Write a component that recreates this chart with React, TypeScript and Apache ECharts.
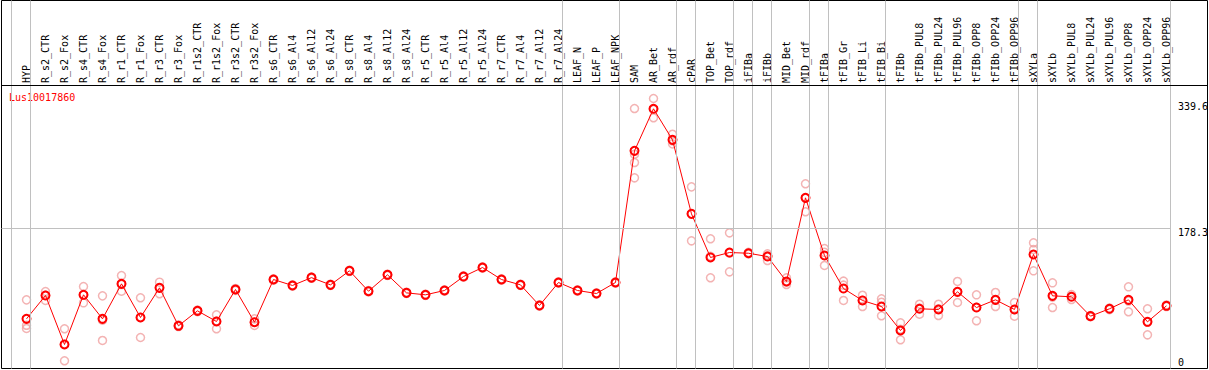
import React, { useEffect, useRef } from "react";
import * as echarts from "echarts";

const categories = [
  "HYP", "R_s2_CTR", "R_s2_Fox", "R_s4_CTR", "R_s4_Fox", "R_r1_CTR", "R_r1_Fox", "R_r3_CTR", "R_r3_Fox",
  "R_r1s2_CTR", "R_r1s2_Fox", "R_r3s2_CTR", "R_r3s2_Fox", "R_s6_CTR", "R_s6_Al4", "R_s6_Al12", "R_s6_Al24",
  "R_s8_CTR", "R_s8_Al4", "R_s8_Al12", "R_s8_Al24", "R_r5_CTR", "R_r5_Al4", "R_r5_Al12", "R_r5_Al24",
  "R_r7_CTR", "R_r7_Al4", "R_r7_Al12", "R_r7_Al24", "LEAF_N", "LEAF_P", "LEAF_NPK", "SAM", "AR_Bet", "AR_rdf",
  "cPAR", "TOP_Bet", "TOP_rdf", "iFIBa", "iFIBb", "MID_Bet", "MID_rdf", "tFIBa", "tFIB_Gr", "tFIB_Li", "tFIB_Bi",
  "tFIBb", "tFIBb_PUL8", "tFIBb_PUL24", "tFIBb_PUL96", "tFIBb_OPP8", "tFIBb_OPP24", "tFIBb_OPP96", "sXYLa",
  "sXYLb", "sXYLb_PUL8", "sXYLb_PUL24", "sXYLb_PUL96", "sXYLb_OPP8", "sXYLb_OPP24", "sXYLb_OPP96",
];

const meanValues = [
  63.3, 93.0, 30.6, 93.9, 63.3, 107.9, 65.0, 102.8, 54.4, 73.5, 59.9, 100.7, 59.0,
  113.4, 105.8, 115.8, 106.6, 124.5, 98.5, 119.4, 96.4, 93.9, 99.4, 117.2, 128.7, 113.4, 106.6, 80.3, 109.6,
  99.4, 95.6, 109.6,
  277.4, 331.0, 291.4, 197.1, 141.5, 147.8, 146.9, 142.7, 110.9, 217.5, 144.0,
  101.9, 86.7, 79.0, 48.4, 76.1, 75.2, 97.7, 77.7, 87.5, 75.2, 145.3, 92.6, 91.4, 66.7, 76.1, 87.5, 59.5, 79.9,
];

const replicateValues: number[][] = [
  [87.5, 55.1, 51.0], [98.1, 93.5, 86.7], [50.6, 31.0, 9.8], [104.5, 93.5, 83.7], [92.6, 61.6, 35.7],
  [118.5, 107.0, 98.5], [90.1, 65.0, 39.5], [110.0, 103.0, 95.2], [55.5, 54.0, 53.5], [74.5, 73.5, 72.5],
  [68.4, 60.5, 50.6], [102.0, 100.5, 99.5], [63.3, 59.0, 54.8],
  [114.2, 113.4, 112.6], [106.6, 105.8, 105.0], [116.6, 115.8, 115.0], [107.4, 106.6, 105.8],
  [125.3, 124.5, 123.7], [99.3, 98.5, 97.7], [120.2, 119.4, 118.6], [97.2, 96.4, 95.6],
  [94.7, 93.9, 93.1], [100.2, 99.4, 98.6], [118.0, 117.2, 116.4], [129.5, 128.7, 127.9],
  [114.2, 113.4, 112.6], [107.4, 106.6, 105.8], [81.1, 80.3, 79.5], [110.4, 109.6, 108.8],
  [100.2, 99.4, 98.6], [96.4, 95.6, 94.8], [110.4, 109.6, 108.8],
  [331.3, 273.1, 262.5, 243.0], [344.1, 330.0, 319.5], [298.6, 290.0, 286.3], [231.5, 197.0, 162.7],
  [165.3, 143.0, 115.6], [172.9, 147.0, 123.2], [148.0, 147.0, 146.0], [146.1, 144.0, 137.6],
  [115.6, 110.0, 107.0], [235.4, 217.0, 199.7], [152.9, 148.0, 131.3],
  [111.3, 106.2, 86.7], [93.4, 87.0, 79.0], [88.8, 84.5, 67.2], [58.2, 50.0, 36.6], [81.9, 77.0, 69.2],
  [81.9, 76.0, 67.5], [110.9, 98.0, 84.1], [93.9, 78.0, 60.8], [96.9, 87.0, 79.0], [84.1, 75.0, 66.7],
  [160.2, 151.6, 124.5], [109.2, 91.0, 77.7], [94.3, 92.0, 87.9], [67.5, 66.5, 66.0], [77.0, 76.0, 75.0],
  [104.1, 86.0, 72.3], [76.1, 59.0, 42.9], [81.0, 80.0, 79.0],
];

// index of the last category in each group (separators drawn just after)
const groupEnds = [-1, 0, 28, 31, 34, 35, 37, 38, 39, 41, 42, 45, 52, 53, 60];
const yTickValues = [0, 178.3, 339.6];
const gridValue = 178.3;
const geneName = "Lus10017860";

const MONO = '"DejaVu Sans Mono", monospace';

export default function App() {
  const ref = useRef<HTMLDivElement>(null);

  useEffect(() => {
    if (!ref.current) return;
    const chart = echarts.init(ref.current, null, { renderer: "svg" });

    const X_MIN = -1.3158;
    const X_MAX = 62.158;
    const Y_MAX = 469;
    const HEADER_VALUE = 360.7;
    const SEP_OFFSET = 0.22;

    const repData: number[][] = [];
    replicateValues.forEach((arr, i) => arr.forEach((v) => repData.push([i, v])));
    const meanData = meanValues.map((v, i) => [i, v]);

    const grey = "#c0c0c0";

    chart.setOption({
      animation: false,
      backgroundColor: "#ffffff",
      grid: [
        {
          left: 1.5, top: 0.5, width: 1206, height: 368,
          show: true, borderColor: "#000000", borderWidth: 1, backgroundColor: "transparent",
        },
        { left: 17, top: 0, width: 1159, height: 85, show: false },
      ],
      xAxis: [
        { type: "value", gridIndex: 0, min: X_MIN, max: X_MAX, show: false },
        {
          type: "category", gridIndex: 1, data: categories, position: "bottom", boundaryGap: true,
          axisLine: { show: false }, axisTick: { show: false }, splitLine: { show: false },
          axisLabel: {
            inside: true, rotate: 90, interval: 0, margin: 2,
            fontFamily: MONO, fontSize: 10, color: "#000000",
          },
        },
      ],
      yAxis: [
        { type: "value", gridIndex: 0, min: 0, max: Y_MAX, show: false },
        { type: "value", gridIndex: 1, show: false },
      ],
      series: [
        {
          type: "scatter", name: "replicates", xAxisIndex: 0, yAxisIndex: 0,
          data: repData, symbol: "circle", symbolSize: 8, z: 2,
          itemStyle: { color: "rgba(0,0,0,0)", borderColor: "#f0a0a0", borderWidth: 1.5 },
          markLine: {
            silent: true, symbol: ["none", "none"], label: { show: false },
            data: [
              ...groupEnds.map((g) => ({ xAxis: g + SEP_OFFSET, lineStyle: { color: grey, width: 1, type: "solid" } })),
              [
                { coord: [X_MIN, gridValue], lineStyle: { color: grey, width: 1, type: "solid" } },
                { coord: [60 + SEP_OFFSET, gridValue] },
              ],
              { yAxis: HEADER_VALUE, lineStyle: { color: "#000000", width: 1, type: "solid" } },
            ],
          },
        },
        {
          type: "line", name: "mean", xAxisIndex: 0, yAxisIndex: 0,
          data: meanData, symbol: "circle", symbolSize: 8, z: 3,
          lineStyle: { color: "#ff0000", width: 1 },
          itemStyle: { color: "rgba(0,0,0,0)", borderColor: "#ff0000", borderWidth: 2 },
        },
      ],
    });

    const graphics: any[] = [
      {
        type: "text", left: 9, top: 92,
        style: { text: geneName, fill: "#ff0000", font: `10px ${MONO}` },
      },
    ];
    yTickValues.forEach((v) => {
      const p = chart.convertToPixel({ gridIndex: 0 } as any, [X_MAX, v]) as number[];
      graphics.push({
        type: "text", x: 1178, y: p[1] - 1,
        style: {
          text: String(v), fill: "#000000", font: `10px ${MONO}`,
          align: "left", verticalAlign: v === 0 ? "bottom" : "top",
        },
      });
    });
    chart.setOption({ graphic: graphics });

    return () => chart.dispose();
  }, []);

  return (
    <div
      ref={ref}
      style={{ position: "absolute", left: 0, top: 0, width: 1209, height: 370, background: "#fff" }}
    />
  );
}
